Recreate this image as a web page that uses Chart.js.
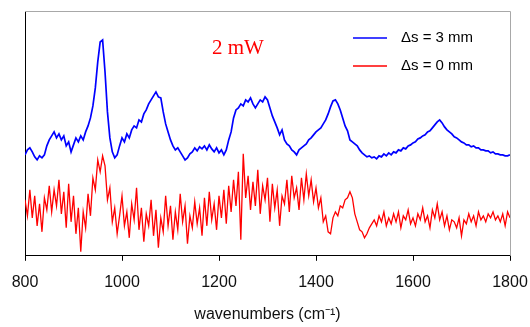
<!DOCTYPE html>
<html>
<head>
<meta charset="utf-8">
<script src="https://cdn.jsdelivr.net/npm/chart.js@4.4.0/dist/chart.umd.min.js"></script>
<style>
  html, body { margin: 0; padding: 0; background: #fff; }
  canvas { display: block; }
</style>
</head>
<body>
<canvas id="spectrum" width="530" height="327"></canvas>
<script>
// sampling grid of the spectra (cm-1)
const waveStart = 800;
const waveStep = 5;
const xTicks = [800, 1000, 1200, 1400, 1600, 1800];

// ds = 3 mm (blue), one row per 100 cm-1
const blueVals = [
  101,106,108,104,99,96,100,98,101,110,116,120,124,118,122,116,120,110,114,104,
  111,118,114,120,116,124,130,138,150,168,194,214,216,184,144,118,104,98,101,110,
  118,114,122,118,126,130,128,136,134,142,146,152,156,160,164,159,158,144,132,124,
  116,110,106,108,104,100,96,98,102,104,108,105,109,107,110,106,111,107,104,108,
  103,106,101,106,116,124,138,146,148,152,150,156,154,158,152,148,152,156,154,159,
  156,148,140,134,128,121,126,116,112,110,106,104,101,106,108,110,112,116,118,121,
  124,126,128,132,136,142,149,155,156,152,146,138,130,125,116,114,112,110,106,103,
  101,99,100,98,99,97,100,99,102,100,103,101,104,103,106,105,108,107,110,111,
  113,114,117,118,120,121,124,125,128,131,134,136,133,129,126,124,122,119,118,116,
  114,113,111,111,109,110,108,108,106,106,105,105,103,104,102,102,101,101,100,100,
  101
];

// ds = 0 mm (red)
const redVals = [
  56,40,66,38,60,30,52,24,58,46,70,44,66,50,76,42,64,28,72,34,
  60,22,48,4,44,28,62,40,78,66,96,84,100,90,56,68,34,48,22,40,
  60,30,44,18,52,36,68,26,48,14,42,30,56,20,46,8,38,24,60,30,
  50,16,44,26,62,34,50,12,40,28,54,32,48,20,58,30,64,36,52,26,
  60,38,66,32,70,44,76,50,84,16,102,58,80,46,74,50,86,42,70,56,
  78,34,72,48,66,30,60,52,76,44,80,58,68,46,78,56,82,60,76,54,
  68,48,58,34,40,24,22,38,44,40,50,48,56,58,64,58,42,34,26,24,
  18,22,28,32,36,30,40,34,44,30,38,32,42,34,44,28,40,36,46,32,
  38,30,42,36,48,34,40,28,46,38,52,36,44,30,40,26,36,34,28,38,
  20,36,32,42,34,40,30,44,36,40,34,42,38,44,36,40,34,42,30,44,
  38
];

const seriesNames = ['\u0394s = 3 mm', '\u0394s = 0 mm'];
const seriesColors = ['#0000ff', '#ff0000'];
const powerLabel = '2 mW';

const toPoints = vals => vals.map((v, i) => ({ x: waveStart + i * waveStep, y: v }));

// frame on top/right, legend and the power note
const extras = {
  id: 'extras',
  afterDraw(chart) {
    const { ctx, chartArea: a } = chart;
    ctx.save();
    ctx.strokeStyle = '#a8a8a8';
    ctx.lineWidth = 1;
    ctx.beginPath();
    ctx.moveTo(a.left, a.top + 0.5);
    ctx.lineTo(a.right + 0.5, a.top + 0.5);
    ctx.lineTo(a.right + 0.5, a.bottom);
    ctx.stroke();

    ctx.font = '15px "Liberation Sans", Arial, sans-serif';
    ctx.textBaseline = 'middle';
    chart.data.datasets.forEach((ds, i) => {
      const y = 38 + i * 28;
      ctx.strokeStyle = ds.borderColor;
      ctx.lineWidth = 1.5;
      ctx.beginPath();
      ctx.moveTo(353, y);
      ctx.lineTo(387, y);
      ctx.stroke();
      ctx.fillStyle = '#000';
      ctx.fillText(ds.label, 401, y);
    });

    ctx.fillStyle = '#ff0000';
    ctx.font = '21px "Liberation Serif", "Times New Roman", serif';
    ctx.fillText(powerLabel, 212, 48);
    ctx.restore();
  }
};

new Chart(document.getElementById('spectrum'), {
  type: 'line',
  data: {
    datasets: [
      { label: seriesNames[0], data: toPoints(blueVals), borderColor: seriesColors[0], borderWidth: 1.7 },
      { label: seriesNames[1], data: toPoints(redVals), borderColor: seriesColors[1], borderWidth: 1.3 }
    ]
  },
  options: {
    responsive: false,
    animation: false,
    devicePixelRatio: 1,
    elements: { point: { radius: 0 }, line: { tension: 0 } },
    layout: { padding: { left: 25, right: 20, top: 11, bottom: 0 } },
    plugins: { legend: { display: false }, tooltip: { enabled: false } },
    scales: {
      x: {
        type: 'linear',
        min: 800,
        max: 1800,
        afterBuildTicks: axis => { axis.ticks = xTicks.map(v => ({ value: v })); },
        afterFit: axis => { axis.paddingLeft = 0; axis.paddingRight = 0; },
        grid: { display: true, drawOnChartArea: false, drawTicks: true, tickLength: 5, tickColor: '#000' },
        border: { color: '#000', width: 1 },
        ticks: {
          color: '#111',
          font: { family: '"Liberation Sans", Arial, sans-serif', size: 16, lineHeight: 1.0 },
          padding: 14,
          maxRotation: 0,
          callback: v => String(v)
        },
        title: {
          display: true,
          text: 'wavenumbers (cm\u207B\u00B9)',
          color: '#111',
          font: { family: '"Liberation Sans", Arial, sans-serif', size: 16 },
          padding: { top: 0, bottom: 3 }
        }
      },
      y: {
        min: 0,
        max: 245,
        ticks: { display: false },
        grid: { display: false, drawTicks: false },
        border: { color: '#000', width: 1 }
      }
    }
  },
  plugins: [extras]
});
</script>
</body>
</html>
